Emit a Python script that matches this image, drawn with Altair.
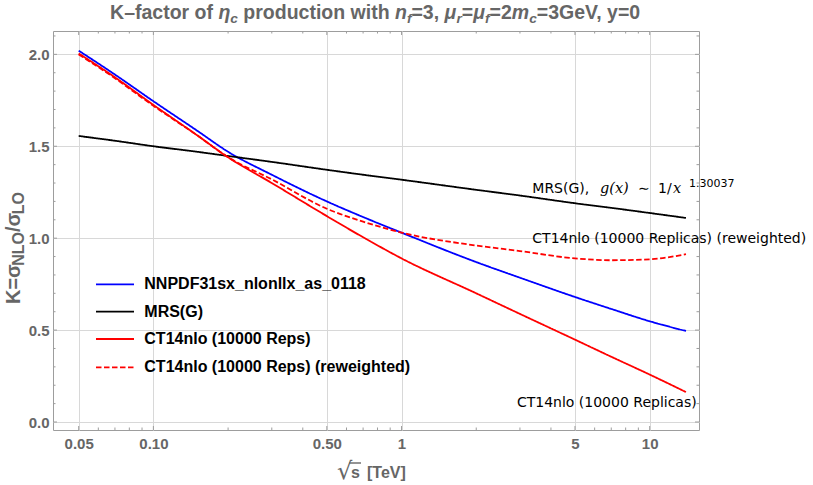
import altair as alt
import pandas as pd

# ---------------- data ----------------
sqrt_s = [0.05, 0.07, 0.1, 0.15, 0.2, 0.3, 0.5, 0.7, 1, 2, 3, 5, 7, 10, 14]
nnpdf = [2.02, 1.89, 1.745, 1.585, 1.47, 1.345, 1.20, 1.115, 1.03, 0.87, 0.785, 0.68, 0.615, 0.548, 0.495]
mrsg = [1.556, 1.53, 1.50, 1.47, 1.447, 1.415, 1.372, 1.345, 1.318, 1.263, 1.232, 1.19, 1.165, 1.137, 1.11]
ct14 = [2.005, 1.875, 1.725, 1.56, 1.44, 1.30, 1.12, 1.005, 0.89, 0.70, 0.588, 0.448, 0.355, 0.258, 0.163]
ct14_rw = [2.00, 1.87, 1.72, 1.56, 1.44, 1.32, 1.16, 1.09, 1.03, 0.96, 0.93, 0.89, 0.88, 0.885, 0.913]

series_names = ["NNPDF31sx_nlonllx_as_0118", "MRS(G)", "CT14nlo (10000 Reps)",
                "CT14nlo (10000 Reps) (reweighted)"]
series_values = [nnpdf, mrsg, ct14, ct14_rw]
series_colors = ["#0000ff", "#000000", "#ff0000", "#ff0000"]
series_dash = [[1, 0], [1, 0], [1, 0], [5.5, 2.5]]

x_major = [0.05, 0.1, 0.5, 1, 5, 10]
x_major_labels = ["0.05", "0.10", "0.50", "1", "5", "10"]
x_minor = [0.06, 0.07, 0.08, 0.09, 0.2, 0.3, 0.4, 0.6, 0.7, 0.8, 0.9, 2, 3, 4, 6, 7, 8, 9]
y_major = [0.0, 0.5, 1.0, 1.5, 2.0]
y_minor = [0.1, 0.2, 0.3, 0.4, 0.6, 0.7, 0.8, 0.9, 1.1, 1.2, 1.3, 1.4, 1.6, 1.7, 1.8, 1.9, 2.1]

# ---------------- layout ----------------
W, H = 646, 399
PAD_L, PAD_T = 53, 31
GRAY = "#666666"
FRAME = "#9d9d9d"

xscale = alt.Scale(type="log", domain=[0.0394, 15.8], nice=False, zero=False)
yscale = alt.Scale(domain=[-0.0435, 2.127], nice=False, zero=False)

rows = []
for name, vals in zip(series_names, series_values):
    for s, k in zip(sqrt_s, vals):
        rows.append({"s": s, "K": k, "series": name})
df = pd.DataFrame(rows)

label_expr = ("datum.value==0.05?'" + x_major_labels[0] + "':datum.value==0.1?'" + x_major_labels[1]
              + "':datum.value==0.5?'" + x_major_labels[2] + "':format(datum.value,'d')")

lines = alt.Chart(df).mark_line(strokeWidth=1.8, interpolate="monotone").encode(
    x=alt.X("s:Q", scale=xscale,
            axis=alt.Axis(values=x_major, labelExpr=label_expr, labelPadding=6, title=None)),
    y=alt.Y("K:Q", scale=yscale,
            axis=alt.Axis(values=y_major, format=".1f", labelPadding=4, title=None)),
    color=alt.Color("series:N", scale=alt.Scale(domain=series_names, range=series_colors), legend=None),
    strokeDash=alt.StrokeDash("series:N", scale=alt.Scale(domain=series_names, range=series_dash), legend=None),
    order=alt.Order("s:Q"),
)

# ---------------- inward frame ticks ----------------
def xticks(vals, length):
    d = pd.DataFrame({"v": vals})
    b = alt.Chart(d).mark_rule(color=FRAME, strokeWidth=1).encode(
        x=alt.X("v:Q", scale=xscale), y=alt.value(H), y2=alt.value(H - length))
    t = alt.Chart(d).mark_rule(color=FRAME, strokeWidth=1).encode(
        x=alt.X("v:Q", scale=xscale), y=alt.value(0), y2=alt.value(length))
    return [b, t]

def yticks(vals, length):
    d = pd.DataFrame({"v": vals})
    l = alt.Chart(d).mark_rule(color=FRAME, strokeWidth=1).encode(
        y=alt.Y("v:Q", scale=yscale), x=alt.value(0), x2=alt.value(length))
    r = alt.Chart(d).mark_rule(color=FRAME, strokeWidth=1).encode(
        y=alt.Y("v:Q", scale=yscale), x=alt.value(W), x2=alt.value(W - length))
    return [l, r]

tick_layers = xticks(x_major, 4) + xticks(x_minor, 2.5) + yticks(y_major, 4) + yticks(y_minor, 2.5)

# ---------------- text helpers ----------------
ARIAL_B = {' ': 278, '–': 556, ',': 278, '.': 278, '=': 584, '/': 278, '(': 333, ')': 333,
           '[': 333, ']': 333,
           'K': 722, 'G': 778, 'V': 667, 'N': 722, 'L': 611, 'O': 778, 'T': 611,
           'a': 556, 'c': 556, 'd': 611, 'e': 556, 'f': 333, 'h': 611, 'i': 278, 'm': 889,
           'n': 611, 'o': 611, 'p': 611, 'r': 389, 't': 333, 'u': 611, 'w': 778, 'x': 556,
           'y': 556, 's': 556, 'l': 278, 'η': 611, 'μ': 611, 'σ': 611}

def tw(txt, size):
    return sum(ARIAL_B.get(ch, 556) for ch in txt) * size / 1000.0

def text_at(txt, x, y, size, font="Liberation Sans", weight="bold", style="normal",
            color="#000000", angle=0, align="left", baseline="alphabetic"):
    kw = dict(text=txt, font=font, fontSize=size, fontWeight=weight, fontStyle=style,
              color=color, align=align, baseline=baseline)
    if angle:
        kw["angle"] = angle
    return alt.Chart(pd.DataFrame({"a": [0]})).mark_text(**kw).encode(
        x=alt.value(x), y=alt.value(y))

# ---------------- title with sub-scripts ----------------
TS = 19.5
SUB = 0.7
title_parts = [("K–factor of ", "n"), ("η", "i"), ("c", "s"), (" production with ", "n"),
               ("n", "i"), ("f", "s"), ("=3, ", "n"), ("μ", "i"), ("r", "s"), ("=", "n"),
               ("μ", "i"), ("f", "s"), ("=2", "n"), ("m", "i"), ("c", "s"), ("=3GeV, y=0", "n")]
total = sum(tw(t, TS * (SUB if k == "s" else 1)) for t, k in title_parts)
cx = W / 2 - total / 2
title_layers = []
for t, k in title_parts:
    size = TS * (SUB if k == "s" else 1)
    lead = len(t) - len(t.lstrip(" "))
    cx += tw(" " * lead, size)
    body = t.lstrip(" ")
    yy = -12 + (4 if k == "s" else 0)
    title_layers.append(text_at(body, cx, yy, size, style="italic" if k != "n" else "normal", color=GRAY))
    cx += tw(body, size)

# ---------------- y-axis title (rotated) ----------------
YS = 20
YSUB = 0.8
ylab_parts = [("K=", "n"), ("σ", "n"), ("NLO", "s"), ("/", "n"), ("σ", "n"), ("LO", "s")]
ytotal = sum(tw(t, YS * (YSUB if k == "s" else 1)) for t, k in ylab_parts)
cy = 217 + ytotal / 2
ytitle_layers = []
for t, k in ylab_parts:
    size = YS * (YSUB if k == "s" else 1)
    xx = -33 + (4 if k == "s" else 0)
    ytitle_layers.append(text_at(t, xx, cy, size, color=GRAY, angle=270))
    cy -= tw(t, size)

# ---------------- x-axis title: sqrt(s) [TeV] ----------------
XB = 447  # baseline (relative to plot top)
xtitle_layers = [
    text_at("√", 284, XB + 1, 24, font="DejaVu Sans", weight="normal", color=GRAY),
    text_at("s", 298, XB, 16, color=GRAY),
    alt.Chart(pd.DataFrame({"a": [0]})).mark_rule(color=GRAY, strokeWidth=1.4).encode(
        x=alt.value(296), x2=alt.value(308), y=alt.value(XB - 15)),
    text_at("[TeV]", 314, XB, 16, color=GRAY),
]

# ---------------- legend (inside plot) ----------------
leg_layers = []
leg_rows = [253.3, 280.7, 308.0, 336.3]
for name, col, dash, ry in zip(series_names, series_colors, series_dash, leg_rows):
    leg_layers.append(alt.Chart(pd.DataFrame({"a": [0]})).mark_rule(
        color=col, strokeDash=dash, strokeWidth=1.8).encode(
        x=alt.value(43), x2=alt.value(81), y=alt.value(ry)))
    leg_layers.append(text_at(name, 91.3, ry, 16, baseline="middle"))

# ---------------- in-plot annotations ----------------
ANN = "DejaVu Sans"
ann_layers = [
    text_at("MRS(G),", 479.3, 162.3, 14, font=ANN, weight="normal"),
    text_at("g(x)", 547, 162.3, 14.5, font="DejaVu Serif", weight="normal", style="italic"),
    text_at("∼", 585, 162.3, 14, font=ANN, weight="normal"),
    text_at("1/", 605, 162.3, 14, font=ANN, weight="normal"),
    text_at("x", 620, 162.3, 14.5, font="DejaVu Serif", weight="normal", style="italic"),
    text_at("1.30037", 636, 155.5, 11, font=ANN, weight="normal"),
    text_at("CT14nlo (10000 Replicas) (reweighted)", 479.3, 212.3, 14, font=ANN, weight="normal"),
    text_at("CT14nlo (10000 Replicas)", 643.7, 375.7, 14, font=ANN, weight="normal", align="right"),
]

chart = alt.layer(
    lines, *tick_layers, *title_layers, *ytitle_layers, *xtitle_layers, *leg_layers, *ann_layers
).properties(
    width=W, height=H,
    padding={"left": PAD_L, "top": PAD_T, "right": 813 - PAD_L - W, "bottom": 485 - PAD_T - H},
    autosize=alt.AutoSizeParams(type="none"),
).configure_view(
    stroke=FRAME, strokeWidth=1
).configure_axis(
    labelFont="Liberation Sans", labelFontWeight="bold", labelColor=GRAY, labelFontSize=15,
    titleFont="Liberation Sans", titleFontWeight="bold", titleColor=GRAY,
    grid=True, gridColor="#d8d8d8", gridWidth=1, domain=False, ticks=False, tickSize=0,
)

chart.save("out.html", embed_options={"renderer": "svg", "actions": False})
